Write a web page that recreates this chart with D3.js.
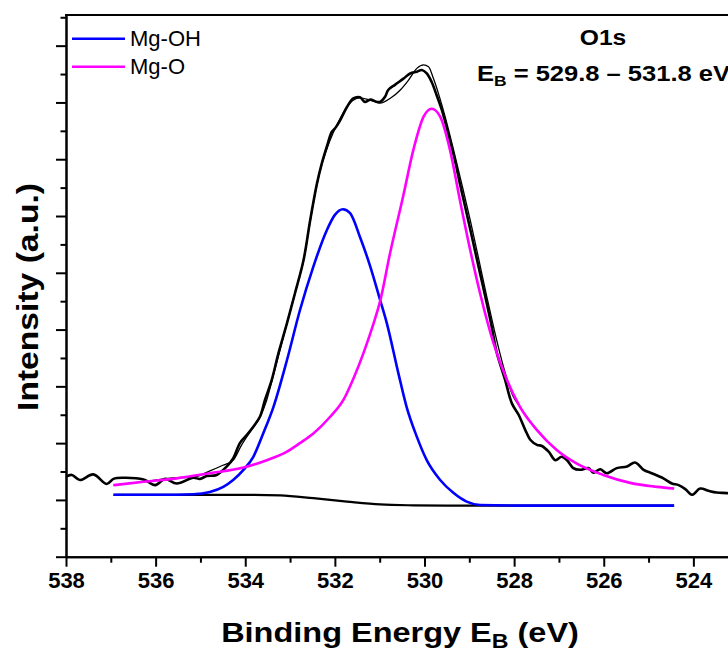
<!doctype html>
<html>
<head>
<meta charset="utf-8">
<title>O1s XPS fit</title>
<script src="https://d3js.org/d3.v7.min.js"></script>
<style>
  body { margin: 0; background: #fff; }
  svg { display: block; }
  .axis path, .axis line { fill: none; stroke: #000; stroke-width: 2; }
  .axis text { font-family: "Liberation Sans", Arial, sans-serif; font-weight: bold; font-size: 22px; fill: #000; }
  .lab { font-family: "Liberation Sans", Arial, sans-serif; fill: #000; }
</style>
</head>
<body>
<div id="chart"></div>
<script>
// measured spectrum (binding energy eV, intensity a.u.)
const measE = [538.00,537.87,537.69,537.39,537.09,536.94,536.72,536.27,536.01,535.79,535.53,535.16,535.01,534.86,534.64,534.41,534.27,534.12,533.97,533.82,533.67,533.56,533.41,533.26,533.07,532.89,532.70,532.55,532.40,532.29,532.18,532.07,532.00,531.88,531.73,531.59,531.44,531.33,531.21,531.06,530.99,530.88,530.81,530.66,530.47,530.32,530.17,530.06,529.95,529.84,529.73,529.61,529.47,529.32,529.21,529.06,528.91,528.76,528.61,528.50,528.39,528.20,528.05,527.90,527.75,527.64,527.49,527.38,527.23,527.08,526.94,526.82,526.68,526.53,526.34,526.23,526.08,525.93,525.71,525.48,525.30,525.11,524.93,524.67,524.48,524.33,524.18,524.03,523.85,523.66,523.48,523.25,522.96];
const measI = [1.41,1.44,1.35,1.45,1.28,1.37,1.39,1.36,1.26,1.37,1.29,1.39,1.37,1.42,1.44,1.59,1.73,2.00,2.14,2.29,2.47,2.76,3.11,3.58,4.11,4.64,5.22,5.93,6.57,6.93,7.22,7.48,7.54,7.69,7.92,8.07,8.09,8.01,8.05,8.01,8.01,8.10,8.22,8.31,8.42,8.51,8.54,8.57,8.51,8.36,8.13,7.86,7.45,6.98,6.57,6.05,5.52,4.99,4.46,4.05,3.60,3.11,2.70,2.50,2.23,2.06,1.97,1.95,1.85,1.70,1.76,1.70,1.56,1.53,1.56,1.48,1.54,1.47,1.56,1.59,1.66,1.53,1.47,1.38,1.29,1.26,1.19,1.09,1.20,1.16,1.13,1.12,1.10];

// fitted envelope
const envE = [536.94,536.27,535.53,535.16,534.79,534.50,534.27,534.08,533.89,533.67,533.52,533.40,533.07,532.89,532.70,532.55,532.40,532.29,532.17,532.04,531.88,531.73,531.59,531.44,531.21,530.99,530.77,530.54,530.36,530.17,530.02,529.91,529.80,529.69,529.54,529.35,529.17,528.98,528.80,528.61,528.46,528.24,528.02,527.87,527.49,527.05,526.60,526.01,525.41,524.81,524.43];
const envI = [1.26,1.32,1.39,1.40,1.51,1.61,1.70,1.97,2.20,2.46,2.76,3.11,4.11,4.64,5.22,5.91,6.56,6.91,7.20,7.46,7.72,7.92,8.04,8.08,8.04,7.99,8.07,8.22,8.39,8.60,8.66,8.63,8.42,8.16,7.75,7.16,6.57,5.93,5.28,4.58,4.05,3.35,2.82,2.64,2.23,1.88,1.64,1.44,1.30,1.23,1.20];

// Shirley background
const bgE = [536.94,535.01,533.89,533.22,532.48,531.73,530.99,530.25,529.50,524.43];
const bgI = [1.09,1.09,1.09,1.08,1.03,0.97,0.92,0.905,0.90,0.90];

// Mg-OH component
const ohE = [536.94,535.90,535.16,534.79,534.49,534.27,534.04,533.82,533.60,533.37,533.07,532.78,532.48,532.18,532.00,531.82,531.66,531.44,531.21,530.99,530.84,530.58,530.40,530.17,529.95,529.65,529.35,529.06,528.76,527.87,526.08,524.43];
const ohI = [1.09,1.09,1.10,1.14,1.23,1.35,1.53,1.76,2.17,2.64,3.46,4.34,5.11,5.75,6.02,6.12,6.05,5.63,5.11,4.52,4.11,3.22,2.64,2.11,1.70,1.35,1.12,0.97,0.91,0.90,0.90,0.90];

// Mg-O component
const moE = [536.94,536.27,535.53,534.79,534.04,533.52,533.07,532.78,532.48,532.11,531.81,531.59,531.36,531.14,530.99,530.77,530.47,530.25,530.02,529.84,529.65,529.43,529.21,528.98,528.76,528.46,528.16,527.87,527.49,527.05,526.60,526.01,525.41,524.81,524.43];
const moI = [1.26,1.32,1.38,1.47,1.57,1.70,1.85,2.00,2.17,2.46,2.76,3.13,3.59,4.10,4.50,5.34,6.37,7.16,7.75,7.89,7.75,7.16,6.28,5.40,4.64,3.76,3.11,2.64,2.23,1.88,1.64,1.44,1.30,1.23,1.20];

const xMajor = [538, 536, 534, 532, 530, 528, 526, 524];
const xMinor = [537, 535, 533, 531, 529, 527, 525, 523];
const yMajor = [0, 1, 2, 3, 4, 5, 6, 7, 8, 9];
const yMinor = [0.5, 1.5, 2.5, 3.5, 4.5, 5.5, 6.5, 7.5, 8.5, 9.5];

const w = 728, h = 650;
const margin = { top: 15, left: 66, bottom: 556.7 };
const plotRight = 783;

const svg = d3.select("#chart").append("svg")
    .attr("width", w)
    .attr("height", h);

const x = d3.scaleLinear().domain([538, 522]).range([margin.left, plotRight]);
const y = d3.scaleLinear().domain([0, 9.54]).range([margin.bottom, margin.top]);

const pts = (es, is) => es.map((e, i) => [e, is[i]]);
const rough = d3.line().x(d => x(d[0])).y(d => y(d[1])).curve(d3.curveCatmullRom);
const smooth = d3.line().x(d => x(d[0])).y(d => y(d[1])).curve(d3.curveMonotoneX);

// curves
svg.append("path")
    .attr("fill", "none").attr("stroke", "#000").attr("stroke-width", 2.6)
    .attr("d", rough(pts(measE, measI)));

svg.append("path")
    .attr("fill", "none").attr("stroke", "#000").attr("stroke-width", 1.3)
    .attr("d", smooth(pts(envE, envI)));

svg.append("path")
    .attr("fill", "none").attr("stroke", "#000").attr("stroke-width", 2.2)
    .attr("d", smooth(pts(bgE, bgI)));

svg.append("path")
    .attr("fill", "none").attr("stroke", "#0000ff").attr("stroke-width", 2.6)
    .attr("d", smooth(pts(ohE, ohI)));

svg.append("path")
    .attr("fill", "none").attr("stroke", "#ff00ff").attr("stroke-width", 2.6)
    .attr("d", smooth(pts(moE, moI)));

// axes
svg.append("g")
    .attr("class", "axis")
    .attr("transform", "translate(0," + margin.bottom + ")")
    .call(d3.axisBottom(x).tickValues(xMajor).tickSize(10).tickSizeOuter(0).tickPadding(6).tickFormat(d3.format("d")));

svg.append("g")
    .attr("class", "axis")
    .attr("transform", "translate(0," + margin.bottom + ")")
    .call(d3.axisBottom(x).tickValues(xMinor).tickSize(6).tickSizeOuter(0).tickFormat(""));

svg.append("g")
    .attr("class", "axis")
    .attr("transform", "translate(" + margin.left + ",0)")
    .call(d3.axisLeft(y).tickValues(yMajor).tickSize(10).tickSizeOuter(0).tickFormat(""));

svg.append("g")
    .attr("class", "axis")
    .attr("transform", "translate(" + margin.left + ",0)")
    .call(d3.axisLeft(y).tickValues(yMinor).tickSize(5.5).tickSizeOuter(0).tickFormat(""));

svg.append("line")
    .attr("x1", margin.left - 1).attr("x2", plotRight)
    .attr("y1", margin.top).attr("y2", margin.top)
    .attr("stroke", "#000").attr("stroke-width", 2);

// axis titles (source lettering is a little wider than the font)
const xt = svg.append("text")
    .attr("class", "lab")
    .attr("transform", "translate(400,641.7) scale(1.16,1)")
    .attr("text-anchor", "middle")
    .style("font-size", "28px").style("font-weight", "bold");
xt.append("tspan").text("Binding Energy E");
xt.append("tspan").attr("dy", 6).style("font-size", "20px").text("B");
xt.append("tspan").attr("dy", -6).text(" (eV)");

svg.append("text")
    .attr("class", "lab")
    .attr("transform", "translate(38,297) rotate(-90) scale(1.16,1)")
    .attr("text-anchor", "middle")
    .style("font-size", "29px").style("font-weight", "bold")
    .text("Intensity (a.u.)");

// legend
const legendItems = [
    { name: "Mg-OH", color: "#0000ff" },
    { name: "Mg-O", color: "#ff00ff" }
];
legendItems.forEach(function (d, i) {
    const ly = 38.7 + i * 28;
    svg.append("line")
        .attr("x1", 72).attr("x2", 125)
        .attr("y1", ly).attr("y2", ly)
        .attr("stroke", d.color).attr("stroke-width", 2.6);
    svg.append("text")
        .attr("class", "lab")
        .attr("x", 130).attr("y", ly + 7.5)
        .style("font-size", "22px")
        .text(d.name);
});

// annotation
svg.append("text")
    .attr("class", "lab")
    .attr("transform", "translate(603,45) scale(1.12,1)")
    .attr("text-anchor", "middle")
    .style("font-size", "22px").style("font-weight", "bold")
    .text("O1s");

const ann = svg.append("text")
    .attr("class", "lab")
    .attr("transform", "translate(477,80.7) scale(1.16,1)")
    .style("font-size", "22px").style("font-weight", "bold");
ann.append("tspan").text("E");
ann.append("tspan").attr("dy", 5).style("font-size", "15px").text("B");
ann.append("tspan").attr("dy", -5).text(" = 529.8 \u2013 531.8 eV");
</script>
</body>
</html>
